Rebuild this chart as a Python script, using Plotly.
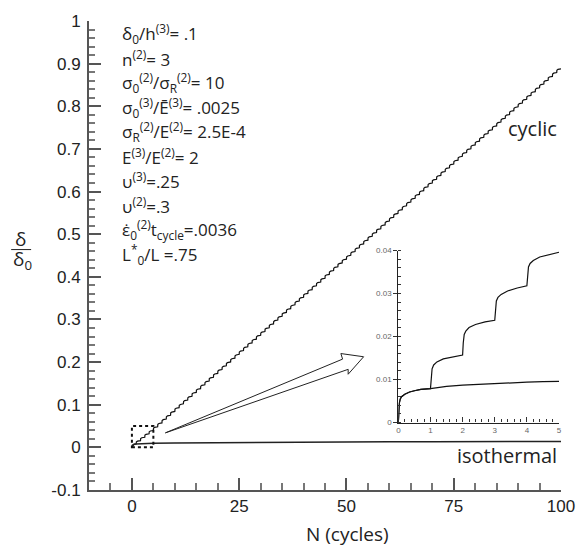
import plotly.graph_objects as go

# ---- data ----------------------------------------------------------------
# cyclic loading: displacement ratio at the end of each cycle, N = 0..100
cyclic_cycle_end = [
    0.0, 0.0080, 0.0158, 0.0238, 0.0317, 0.0395, 0.0484, 0.0574, 0.0663, 0.0752,
    0.0842, 0.0931, 0.1020, 0.1109, 0.1199, 0.1288, 0.1377, 0.1467, 0.1556, 0.1645,
    0.1735, 0.1824, 0.1913, 0.2003, 0.2092, 0.2181, 0.2270, 0.2360, 0.2449, 0.2538,
    0.2628, 0.2717, 0.2806, 0.2896, 0.2985, 0.3074, 0.3164, 0.3253, 0.3342, 0.3431,
    0.3521, 0.3610, 0.3699, 0.3789, 0.3878, 0.3967, 0.4057, 0.4146, 0.4235, 0.4325,
    0.4414, 0.4503, 0.4592, 0.4682, 0.4771, 0.4860, 0.4950, 0.5039, 0.5128, 0.5218,
    0.5307, 0.5396, 0.5486, 0.5575, 0.5664, 0.5753, 0.5843, 0.5932, 0.6021, 0.6111,
    0.6200, 0.6289, 0.6379, 0.6468, 0.6557, 0.6646, 0.6736, 0.6825, 0.6914, 0.7004,
    0.7093, 0.7182, 0.7272, 0.7361, 0.7450, 0.7540, 0.7629, 0.7718, 0.7807, 0.7897,
    0.7986, 0.8075, 0.8165, 0.8254, 0.8343, 0.8433, 0.8522, 0.8611, 0.8700, 0.8790,
    0.8879,
]
# shape of one cycle: fraction of the cycle's increment reached at each phase
cycle_phase = [0.0, 0.04, 0.3, 1.0]
cycle_fraction = [0.0, 0.62, 0.85, 1.0]

# isothermal loading (main axes)
iso_N = [0, 0.5, 1, 2, 5, 10, 20, 30, 40, 50, 60, 70, 80, 90, 100]
iso_d = [0, 0.0074, 0.0079, 0.0087, 0.0096, 0.0104, 0.0112, 0.0118, 0.0122,
         0.0126, 0.0129, 0.0132, 0.0135, 0.0137, 0.0140]

# close-up of the first five cycles
zoom_cyc_N = [0, 0.01, 0.03, 0.06, 0.1, 0.2, 0.35, 0.5, 0.7, 1.0,
              1.02, 1.05, 1.1, 1.2, 1.4, 1.7, 2.0,
              2.02, 2.05, 2.1, 2.2, 2.4, 2.7, 3.0,
              3.02, 3.05, 3.1, 3.2, 3.4, 3.7, 4.0,
              4.02, 4.05, 4.1, 4.2, 4.4, 4.7, 5.0]
zoom_cyc_d = [0, 0.0025, 0.0045, 0.0055, 0.0060, 0.0066, 0.0071, 0.0074, 0.0077, 0.0079,
              0.0105, 0.0125, 0.0134, 0.0141, 0.0148, 0.0153, 0.0157,
              0.0185, 0.0205, 0.0213, 0.0221, 0.0228, 0.0234, 0.0238,
              0.0265, 0.0283, 0.0291, 0.0298, 0.0306, 0.0313, 0.0318,
              0.0345, 0.0362, 0.0370, 0.0377, 0.0385, 0.0391, 0.0396]
zoom_iso_N = [0, 0.01, 0.03, 0.06, 0.1, 0.2, 0.35, 0.5, 0.7, 1.0,
              1.5, 2.0, 2.5, 3.0, 3.5, 4.0, 4.5, 5.0]
zoom_iso_d = [0, 0.0025, 0.0045, 0.0055, 0.0060, 0.0066, 0.0071, 0.0074, 0.0077, 0.0079,
              0.0084, 0.0087, 0.0089, 0.0091, 0.0093, 0.0094, 0.0095, 0.0096]

# axis ticks
x_ticks = [0, 25, 50, 75, 100]
x_ticktext = ["0", "25", "50", "75", "100"]
y_ticks = [-0.1, 0, 0.1, 0.2, 0.3, 0.4, 0.5, 0.6, 0.7, 0.8, 0.9, 1.0]
y_ticktext = ["-0.1", "0", "0.1", "0.2", "0.3", "0.4", "0.5", "0.6",
              "0.7", "0.8", "0.9", "1"]
zx_ticks = [0, 1, 2, 3, 4, 5]
zy_ticks = [0, 0.01, 0.02, 0.03, 0.04]
zy_ticktext = ["0", "0.01", "0.02", "0.03", "0.04"]

# material / loading parameters listed on the chart
param_lines = [
    "δ<sub>0</sub>/h<sup>(3)</sup>= .1",
    "n<sup>(2)</sup>= 3",
    "σ<sub>0</sub><sup>(2)</sup>/σ<sub>R</sub><sup>(2)</sup>= 10",
    "σ<sub>0</sub><sup>(3)</sup>/Ē<sup>(3)</sup>= .0025",
    "σ<sub>R</sub><sup>(2)</sup>/E<sup>(2)</sup>= 2.5E-4",
    "E<sup>(3)</sup>/E<sup>(2)</sup>= 2",
    "υ<sup>(3)</sup>=.25",
    "υ<sup>(2)</sup>=.3",
    "ε̇<sub>0</sub><sup>(2)</sup>t<sub>cycle</sub>=.0036",
    "L<sup>*</sup><sub>0</sub>/L =.75",
]

# ---- build the saw-tooth cyclic curve from the per-cycle values ----------
cyc_x, cyc_y = [], []
for k in range(len(cyclic_cycle_end) - 1):
    a, b = cyclic_cycle_end[k], cyclic_cycle_end[k + 1]
    for ph, fr in zip(cycle_phase, cycle_fraction):
        if k > 0 and ph == 0.0:
            continue
        cyc_x.append(k + ph)
        cyc_y.append(a + fr * (b - a))

TEXT_FONT = "Open Sans"
TICK_FONT = "Liberation Sans"

fig = go.Figure()
fig.add_trace(go.Scatter(x=cyc_x, y=cyc_y, mode="lines",
                         line=dict(color="#111", width=1.2), hoverinfo="skip"))
fig.add_trace(go.Scatter(x=iso_N, y=iso_d, mode="lines",
                         line=dict(color="#222", width=1.5), hoverinfo="skip"))
fig.add_trace(go.Scatter(x=zoom_iso_N, y=zoom_iso_d, mode="lines", xaxis="x2", yaxis="y2",
                         line=dict(color="#111", width=1.2), hoverinfo="skip"))
fig.add_trace(go.Scatter(x=zoom_cyc_N, y=zoom_cyc_d, mode="lines", xaxis="x2", yaxis="y2",
                         line=dict(color="#111", width=1.2), hoverinfo="skip"))

# dotted box marking the magnified region
fig.add_shape(type="rect", xref="x", yref="y", x0=0, x1=5, y0=0, y1=0.05,
              line=dict(color="#111", width=2, dash="dot"))

# hollow arrow pointing from the box to the close-up
arrow_x = [7.8, 49.1, 48.7, 54.0, 50.4, 50.4, 7.8]
arrow_y = [0.034, 0.207, 0.220, 0.2125, 0.1715, 0.183, 0.034]
path = "M " + " L ".join(f"{x},{y}" for x, y in zip(arrow_x, arrow_y)) + " Z"
fig.add_shape(type="path", xref="x", yref="y", path=path,
              line=dict(color="#222", width=1), fillcolor="rgba(0,0,0,0)")

annotations = []
row_y = [28 + 24.8 * i for i in range(len(param_lines))]
for txt, py in zip(param_lines, row_y):
    annotations.append(dict(text=txt, xref="paper", yref="paper",
                            x=(120 - 89) / 473, y=(490 - py) / 475,
                            xanchor="left", yanchor="middle", showarrow=False,
                            font=dict(family=TEXT_FONT, size=17, color="#222")))

annotations += [
    dict(text="cyclic", xref="x", yref="y", x=99.5, y=0.748, xanchor="right",
         yanchor="middle", showarrow=False,
         font=dict(family=TEXT_FONT, size=20, color="#222")),
    dict(text="isothermal", xref="x", yref="y", x=99.5, y=-0.018, xanchor="right",
         yanchor="middle", showarrow=False,
         font=dict(family=TEXT_FONT, size=20, color="#222")),
    dict(text="N (cycles)", xref="paper", yref="paper", x=(348 - 89) / 473,
         y=(490 - 535) / 475, xanchor="center", yanchor="middle", showarrow=False,
         font=dict(family=TEXT_FONT, size=19, color="#222")),
    dict(text="δ", xref="paper", yref="paper", x=(20 - 89) / 473,
         y=(490 - 236) / 475, xanchor="center", yanchor="middle", showarrow=False,
         font=dict(family=TEXT_FONT, size=19, color="#222")),
    dict(text="δ<sub>0</sub>", xref="paper", yref="paper", x=(22 - 89) / 473,
         y=(490 - 257) / 475, xanchor="center", yanchor="middle", showarrow=False,
         font=dict(family=TEXT_FONT, size=19, color="#222")),
]
fig.add_shape(type="line", xref="paper", yref="paper",
              x0=(11 - 89) / 473, x1=(31 - 89) / 473,
              y0=(490 - 246.5) / 475, y1=(490 - 246.5) / 475,
              line=dict(color="#222", width=1))

fig.update_layout(
    width=587, height=546,
    margin=dict(l=89, r=25, t=15, b=56),
    paper_bgcolor="white", plot_bgcolor="white",
    showlegend=False,
    annotations=annotations,
    xaxis=dict(range=[-10, 100], tickmode="array", tickvals=x_ticks, ticktext=x_ticktext,
               ticks="inside", ticklen=12, tickwidth=1.5, tickcolor="#555",
               minor=dict(ticks="inside", ticklen=7, tickwidth=1.5, tickcolor="#777",
                          tickmode="linear", tick0=0, dtick=5),
               showline=True, linecolor="#555", linewidth=2, showgrid=False,
               zeroline=False, ticklabelstandoff=0,
               tickfont=dict(family=TICK_FONT, size=17, color="#222")),
    yaxis=dict(range=[-0.1, 1.0], tickmode="array", tickvals=y_ticks, ticktext=y_ticktext,
               ticks="inside", ticklen=12, tickwidth=1.5, tickcolor="#555",
               minor=dict(ticks="inside", ticklen=6, tickwidth=1.5, tickcolor="#777",
                          tickmode="linear", tick0=0, dtick=0.02),
               showline=True, linecolor="#555", linewidth=2, showgrid=False,
               zeroline=False, ticklabelstandoff=3,
               tickfont=dict(family=TICK_FONT, size=17, color="#222")),
    xaxis2=dict(domain=[(399 - 89) / 473, (560 - 89) / 473], anchor="y2",
                range=[0, 5], tickmode="array", tickvals=zx_ticks,
                ticks="inside", ticklen=5, tickwidth=1, tickcolor="#333",
                minor=dict(ticks="inside", ticklen=3, tickwidth=1, tickcolor="#333",
                           tickmode="linear", tick0=0, dtick=0.2),
                showline=True, linecolor="#222", linewidth=1.2, showgrid=False,
                zeroline=False,
                tickfont=dict(family=TICK_FONT, size=8, color="#666")),
    yaxis2=dict(domain=[(490 - 421.7) / 475, (490 - 247.5) / 475], anchor="x2",
                range=[0, 0.04], tickmode="array", tickvals=zy_ticks, ticktext=zy_ticktext,
                ticks="outside", ticklen=4, tickwidth=1, tickcolor="#333",
                minor=dict(ticks="inside", ticklen=3, tickwidth=1, tickcolor="#333",
                           tickmode="linear", tick0=0, dtick=0.002),
                showline=True, linecolor="#222", linewidth=1.2, showgrid=False,
                zeroline=False,
                tickfont=dict(family=TICK_FONT, size=8, color="#666")),
)

fig.write_html("out.html")
